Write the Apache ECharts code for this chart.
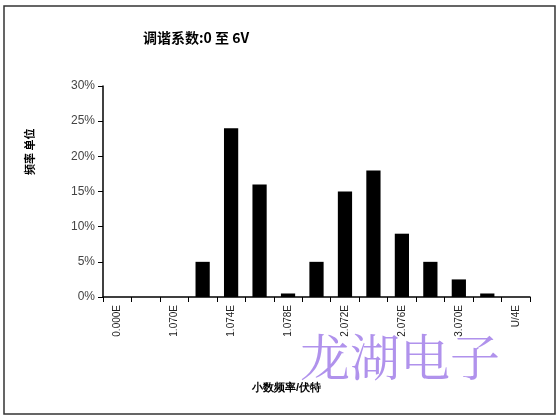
<!DOCTYPE html><html><head><meta charset="utf-8"><script src="https://cdn.jsdelivr.net/npm/echarts@6/dist/echarts.min.js"></script>
<style>body{margin:0;background:#fff}#c{width:560px;height:418px}</style></head><body><div id="c"></div><script>
const categories=["0.000E","c1","1.070E","c3","1.074E","c5","1.078E","c7","2.072E","c9","2.076E","c11","3.070E","c13","U/4E"];
const values=[0,0,0,5,24,16,0.5,5,15,18,9,5,2.5,0.5,0];
const yTicks=[0,5,10,15,20,25,30];
const ch=echarts.init(document.getElementById('c'));
ch.setOption({
 animation:false,
 title:{text:'调谐系数:0 至 6V',left:138,top:26,textStyle:{fontSize:14,fontWeight:'bold',color:'#000',fontFamily:'Noto Sans CJK SC'}},
 graphic:[
  {type:'rect',shape:{x:4,y:6,width:551,height:408},style:{fill:'none',stroke:'#333',lineWidth:1.5}},
  {type:'text',x:24,y:175,rotation:Math.PI/2,style:{text:'频率 单位',fontSize:11,fontWeight:'bold',fill:'#000',fontFamily:'Noto Sans CJK SC'}},
  {type:'text',left:300,top:332,style:{text:'龙湖电子',fontSize:50,fill:'rgba(150,110,230,0.75)',fontFamily:'Noto Serif CJK SC, Noto Sans CJK SC'}}
 ],
 grid:{left:103,right:30,top:86,bottom:121},
 xAxis:{type:'category',data:categories,axisTick:{show:true,alignWithLabel:false,lineStyle:{color:'#000'}},axisLine:{lineStyle:{color:'#000',width:1.5}},
  axisLabel:{interval:0,rotate:90,fontSize:10,color:'#222',formatter:(v,i)=>i%2===0?v:''},
  name:'小数频率/伏特',nameLocation:'middle',nameGap:85,nameTextStyle:{fontSize:11,fontWeight:'bold',color:'#000',padding:[0,60,0,0]}},
 yAxis:{type:'value',min:0,max:30,interval:5,axisLine:{show:true,lineStyle:{color:'#000',width:1.5}},axisTick:{show:true,lineStyle:{color:'#000'}},splitLine:{show:false},
  axisLabel:{formatter:v=>v+'%',fontSize:12,color:'#444'}},
 series:[{type:'bar',data:values,barWidth:'50%',itemStyle:{color:'#000'}}]
});
</script></body></html>
